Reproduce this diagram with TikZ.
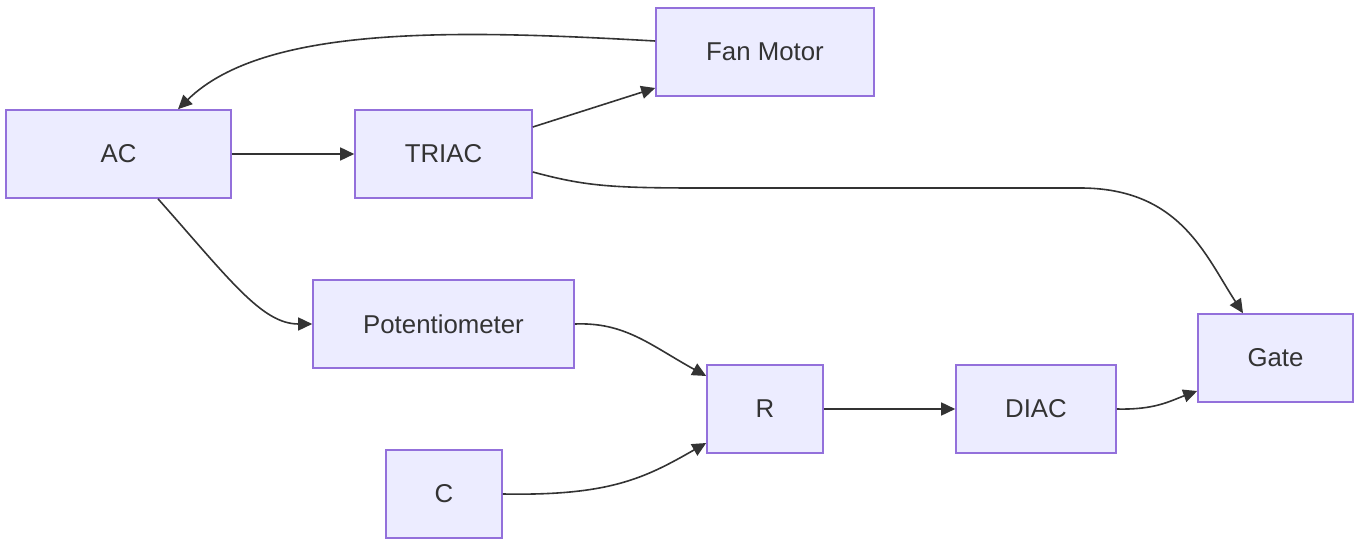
\documentclass[tikz,border=0pt]{standalone}
\usepackage{fontspec}
\setmainfont{Liberation Sans}
\usetikzlibrary{arrows.meta}
\definecolor{nodefill}{HTML}{ECECFF}
\definecolor{nodeline}{HTML}{9370DB}
\definecolor{ink}{HTML}{333333}
\begin{document}
\begin{tikzpicture}[x=1pt,y=-1pt,
  box/.style={draw=nodeline,fill=nodefill,line width=1.6pt,inner sep=0pt,
    text=ink,font=\fontsize{25.8}{30}\selectfont},
  link/.style={draw=ink,line width=1.6pt,-{Triangle[length=14pt,width=13pt]}}]
\useasboundingbox (0,0) rectangle (1361,540);
\node[box,minimum width=225pt,minimum height=88pt] (ac) at (118.5,154) {AC};
\node[box,minimum width=177pt,minimum height=88pt] (triac) at (443.5,154) {TRIAC};
\node[box,minimum width=218pt,minimum height=88pt] (fan) at (765,52) {Fan Motor};
\node[box,minimum width=261pt,minimum height=88pt] (pot) at (443.5,324) {Potentiometer};
\node[box,minimum width=116pt,minimum height=88pt] (r) at (765,409) {R};
\node[box,minimum width=116pt,minimum height=88pt] (c) at (444,494) {C};
\node[box,minimum width=160pt,minimum height=88pt] (diac) at (1036,409) {DIAC};
\node[box,minimum width=155pt,minimum height=88pt] (gate) at (1275.5,358) {Gate};
\draw[link] (fan.west |- 0,41) .. controls (460,30) and (265,24) .. (ac.north -| 178,0);
\draw[link] (ac.east) -- (triac.west);
\draw[link] (triac.east |- 0,127) -- (fan.west |- 0,88);
\draw[link] (triac.east |- 0,172) .. controls (585,186) and (610,188) .. (700,188)
  -- (1080,188) .. controls (1180,188) and (1205,255) .. (gate.north -| 1243,0);
\draw[link] (ac.south -| 158,0) .. controls (230,280) and (262,324) .. (pot.west);
\draw[link] (pot.east) .. controls (625,322) and (650,345) .. (r.west |- 0,376);
\draw[link] (c.east) .. controls (610,496) and (645,478) .. (r.west |- 0,443);
\draw[link] (r.east) -- (diac.west);
\draw[link] (diac.east) .. controls (1155,410) and (1170,401) .. (gate.west |- 0,391);
\end{tikzpicture}
\end{document}
